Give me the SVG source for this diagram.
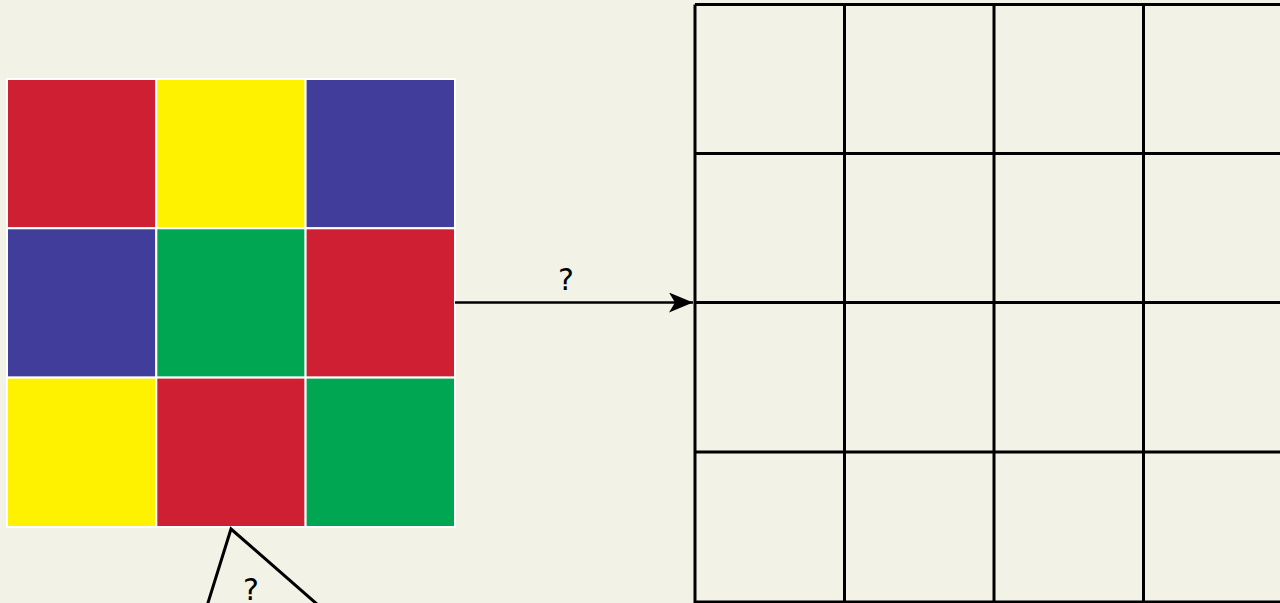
<svg xmlns="http://www.w3.org/2000/svg" width="1280" height="603" viewBox="0 0 1280 603">
<style>
.r{fill:#cf1f33}.y{fill:#fff200}.b{fill:#403d9b}.g{fill:#00a651}
.cell{stroke:#ffffff;stroke-width:2}
.ln{stroke:#000;stroke-width:3;fill:none}
.t{font-family:"DejaVu Sans",sans-serif;font-size:30px;fill:#000;text-anchor:middle}
</style>
<defs>
<marker id="ah" markerWidth="24" markerHeight="20" refX="24" refY="10" orient="auto" markerUnits="userSpaceOnUse" viewBox="0 0 24 20">
<path d="M0,0 L24,10 L0,20 L6,10 Z" fill="#000"/>
</marker>
</defs>
<rect width="1280" height="603" fill="#f2f2e6"/>
<g id="colorGrid">
<rect class="cell r" x="7" y="79" width="149.3" height="149.3"/>
<rect class="cell y" x="156.3" y="79" width="149.3" height="149.3"/>
<rect class="cell b" x="305.6" y="79" width="149.4" height="149.3"/>
<rect class="cell b" x="7" y="228.3" width="149.3" height="149.3"/>
<rect class="cell g" x="156.3" y="228.3" width="149.3" height="149.3"/>
<rect class="cell r" x="305.6" y="228.3" width="149.4" height="149.3"/>
<rect class="cell y" x="7" y="377.6" width="149.3" height="149.4"/>
<rect class="cell r" x="156.3" y="377.6" width="149.3" height="149.4"/>
<rect class="cell g" x="305.6" y="377.6" width="149.4" height="149.4"/>
</g>
<g id="emptyGrid">
<path class="ln" d="M695,4.5 V603 M844.5,4.5 V603 M994,4.5 V603 M1143.5,4.5 V603 M695,4.5 H1280 M695,153.5 H1280 M695,302.5 H1280 M695,452 H1280 M695,602 H1280"/>
</g>
<g id="triangle">
<path class="ln" d="M207,606 L231,529 L318,605" stroke-width="2.5"/>
<text class="t" x="251" y="600">?</text>
</g>
<g id="connectors">
<line x1="455" y1="302.5" x2="693" y2="302.5" stroke="#000" stroke-width="2.5" marker-end="url(#ah)"/>
<text class="t" x="566" y="290">?</text>
</g>
</svg>
